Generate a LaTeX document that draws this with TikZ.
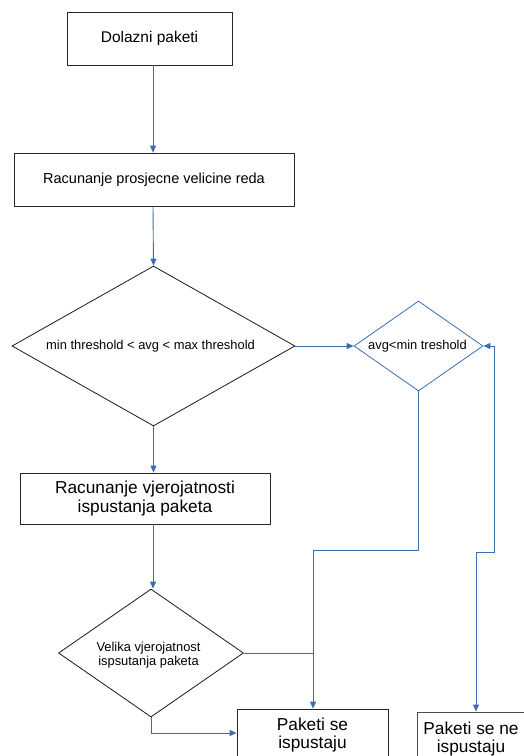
\documentclass[tikz,border=0pt]{standalone}
\usepackage{fontspec}
\setmainfont{Liberation Sans}
\usetikzlibrary{shapes.geometric,arrows.meta}
\definecolor{lnk}{HTML}{3B6CB2}
\tikzset{
  box/.style={draw=black!85, line width=0.8pt, rectangle, inner sep=0pt, align=center},
  dia/.style={draw=black!90, line width=0.8pt, diamond, inner sep=0pt, aspect=1, align=center},
  conn/.style={draw=lnk, line width=0.9pt, -{Triangle[length=7pt,width=6pt]}},
  plain/.style={draw=lnk, line width=0.9pt},
}
\begin{document}
\begin{tikzpicture}[x=1pt,y=-1pt]
\useasboundingbox (0,0) rectangle (524,756);
\clip (0,0) rectangle (524,756);
% boxes
\node[box, minimum width=165pt, minimum height=53pt, font=\fontsize{15.5}{18}\selectfont] (b1) at (149.5,38.5) {Dolazni paketi};
\node[box, minimum width=280pt, minimum height=53pt, font=\fontsize{14.5}{17}\selectfont] (b2) at (154,179.5) {Racunanje prosjecne velicine reda};
\node[dia, minimum width=283pt, minimum height=160pt, font=\fontsize{12.9}{15}\selectfont] (d1) at (153.5,346) {};
\node[font=\fontsize{12.9}{15}\selectfont] at (150.5,346) {min threshold < avg < max threshold};
\node[dia, draw=lnk, minimum width=129pt, minimum height=90pt] (d2) at (418.5,346) {};
\node[font=\fontsize{12.9}{15}\selectfont] at (417.5,346) {avg<min treshold};
\node[box, minimum width=250pt, minimum height=51pt, font=\fontsize{17.3}{19}\selectfont] (b3) at (145,498.5) {Racunanje vjerojatnosti\\ispustanja paketa};
\node[dia, minimum width=185pt, minimum height=128pt] (d3) at (151,653) {};
\node[font=\fontsize{12.9}{14}\selectfont, align=center] at (148.5,655) {Velika vjerojatnost\\ispsutanja paketa};
\node[box, minimum width=151pt, minimum height=52pt, font=\fontsize{17.3}{18.5}\selectfont] (b4) at (312.5,735) {Paketi se\\ispustaju};
\node[box, draw=black!70, minimum width=110pt, minimum height=52pt, font=\fontsize{17.3}{18.5}\selectfont] (b5) at (472,738) {};
\node[font=\fontsize{17.3}{18.5}\selectfont, align=center] at (471,739) {Paketi se ne\\ispustaju};
% connectors
\draw[conn] (b1.south -| 153,0) -- (b2.north -| 153,0);
\draw[conn] (b2.south -| 153,0) -- (d1.north);
\draw[conn] (d1.east) -- (d2.west);
\draw[conn] (d1.south) -- (b3.north -| d1.south);
\draw[conn] (b3.south -| 153,0) -- (d3.north -| 153,0);
\coordinate (j1) at (313,550);
\coordinate (j2) at (313,653);
\draw[conn] (d2.south) -- (d2.south |- j1) -- (j1) -- (b4.north -| j1);
\draw[plain] (d3.east) -- (j2);
\draw[conn] (d3.south) -- (151,733) -- (b4.west |- 0,733);
\coordinate (r1) at (494,346);
\coordinate (r2) at (494,552);
\coordinate (r3) at (476,552);
\draw[conn, {Triangle[length=7pt,width=6pt]}-{Triangle[length=7pt,width=6pt]}] (d2.east) -- (r1) -- (r2) -- (r3) -- (b5.north -| r3);
\end{tikzpicture}
\end{document}
